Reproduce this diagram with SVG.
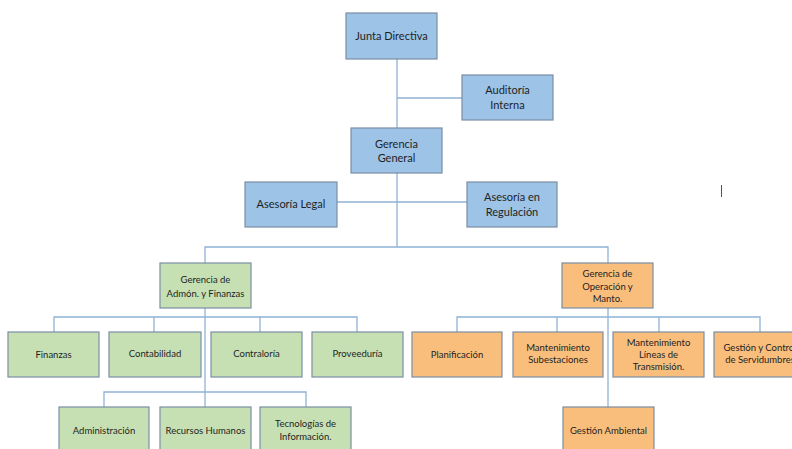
<svg xmlns="http://www.w3.org/2000/svg" width="792" height="449" viewBox="0 0 792 449">
  <style>
    .box { stroke: #7a8ea3; stroke-width: 1.2; }
    .blue { fill: #9dc3e6; }
    .green { fill: #c6e0b4; }
    .orange { fill: #f9be7c; }
    .lbl { font-family: Lato, "Open Sans", "Liberation Sans", sans-serif; fill: #1f1f1f; text-anchor: middle; }
    .big { font-size: 11px; }
    .small { font-size: 9.5px; }
    .conn { stroke: #8fb2d6; stroke-width: 1.3; fill: none; }
  </style>
  <rect width="792" height="449" fill="#ffffff"/>

  <!-- connectors -->
  <g id="connectors" class="conn">
    <path d="M397 59 V128"/>
    <path d="M397 98 H462"/>
    <path d="M397 173 V247"/>
    <path d="M337 202 H467"/>
    <path d="M205 263 V247 H608 V263"/>
    <!-- administration branch -->
    <path d="M205 308 V407"/>
    <path d="M54 332 V317 H357 V332"/>
    <path d="M154 317 V332"/>
    <path d="M260 317 V332"/>
    <path d="M104 407 V392 H306 V407"/>
    <!-- operations branch -->
    <path d="M608 308 V407"/>
    <path d="M457 332 V317 H760 V332"/>
    <path d="M557 317 V332"/>
    <path d="M659 317 V332"/>
  </g>

  <!-- top level -->
  <g id="junta-directiva">
    <rect class="box blue" x="346" y="13" width="91" height="46"/>
    <text class="lbl big" x="391.5" y="40">Junta Directiva</text>
  </g>
  <g id="auditoria-interna">
    <rect class="box blue" x="462" y="75" width="91" height="45"/>
    <text class="lbl big" x="507.5" y="94">Auditoría</text>
    <text class="lbl big" x="507.5" y="109">Interna</text>
  </g>
  <g id="gerencia-general">
    <rect class="box blue" x="351" y="128" width="91" height="45"/>
    <text class="lbl big" x="396.5" y="148">Gerencia</text>
    <text class="lbl big" x="396.5" y="162">General</text>
  </g>
  <g id="asesoria-legal">
    <rect class="box blue" x="245" y="182" width="92" height="45"/>
    <text class="lbl big" x="291" y="208">Asesoría Legal</text>
  </g>
  <g id="asesoria-regulacion">
    <rect class="box blue" x="467" y="182" width="90" height="45"/>
    <text class="lbl big" x="512" y="201">Asesoría en</text>
    <text class="lbl big" x="512" y="216">Regulación</text>
  </g>

  <!-- administration and finance -->
  <g id="gerencia-admon">
    <rect class="box green" x="160" y="263" width="91" height="45"/>
    <text class="lbl small" x="205.5" y="283">Gerencia de</text>
    <text class="lbl small" x="205.5" y="297">Admón. y Finanzas</text>
  </g>
  <g id="finanzas">
    <rect class="box green" x="8" y="332" width="91" height="45"/>
    <text class="lbl small" x="53.5" y="358">Finanzas</text>
  </g>
  <g id="contabilidad">
    <rect class="box green" x="109" y="332" width="92" height="45"/>
    <text class="lbl small" x="155" y="357">Contabilidad</text>
  </g>
  <g id="contraloria">
    <rect class="box green" x="211" y="332" width="91" height="45"/>
    <text class="lbl small" x="256.5" y="357">Contraloría</text>
  </g>
  <g id="proveeduria">
    <rect class="box green" x="312" y="332" width="91" height="45"/>
    <text class="lbl small" x="357.5" y="357">Proveeduría</text>
  </g>
  <g id="administracion">
    <rect class="box green" x="59" y="407" width="90" height="50"/>
    <text class="lbl small" x="104" y="434">Administración</text>
  </g>
  <g id="recursos-humanos">
    <rect class="box green" x="160" y="407" width="91" height="50"/>
    <text class="lbl small" x="205.5" y="434">Recursos Humanos</text>
  </g>
  <g id="tecnologias">
    <rect class="box green" x="260" y="407" width="91" height="50"/>
    <text class="lbl small" x="305.5" y="427">Tecnologías de</text>
    <text class="lbl small" x="305.5" y="440">Información.</text>
  </g>

  <!-- operations and maintenance -->
  <g id="gerencia-operacion">
    <rect class="box orange" x="562" y="263" width="91" height="45"/>
    <text class="lbl small" x="607.5" y="277">Gerencia de</text>
    <text class="lbl small" x="607.5" y="290">Operación y</text>
    <text class="lbl small" x="607.5" y="302">Manto.</text>
  </g>
  <g id="planificacion">
    <rect class="box orange" x="412" y="332" width="90" height="45"/>
    <text class="lbl small" x="457" y="358">Planificación</text>
  </g>
  <g id="mant-subestaciones">
    <rect class="box orange" x="513" y="332" width="90" height="45"/>
    <text class="lbl small" x="558" y="351">Mantenimiento</text>
    <text class="lbl small" x="558" y="363">Subestaciones</text>
  </g>
  <g id="mant-lineas">
    <rect class="box orange" x="613" y="332" width="91" height="45"/>
    <text class="lbl small" x="658.5" y="346">Mantenimiento</text>
    <text class="lbl small" x="658.5" y="358">Líneas de</text>
    <text class="lbl small" x="658.5" y="370">Transmisión.</text>
  </g>
  <!-- this box runs past the right edge of the canvas -->
  <g id="gestion-servidumbres">
    <rect class="box orange" x="714" y="332" width="92" height="45"/>
    <text class="lbl small" x="760" y="351">Gestión y Control</text>
    <text class="lbl small" x="760" y="363">de Servidumbres</text>
  </g>
  <g id="gestion-ambiental">
    <rect class="box orange" x="563" y="407" width="91" height="50"/>
    <text class="lbl small" x="608.5" y="434">Gestión Ambiental</text>
  </g>

  <!-- caret mark -->
  <line x1="721.5" y1="185" x2="721.5" y2="197" stroke="#555555" stroke-width="1"/>
</svg>
